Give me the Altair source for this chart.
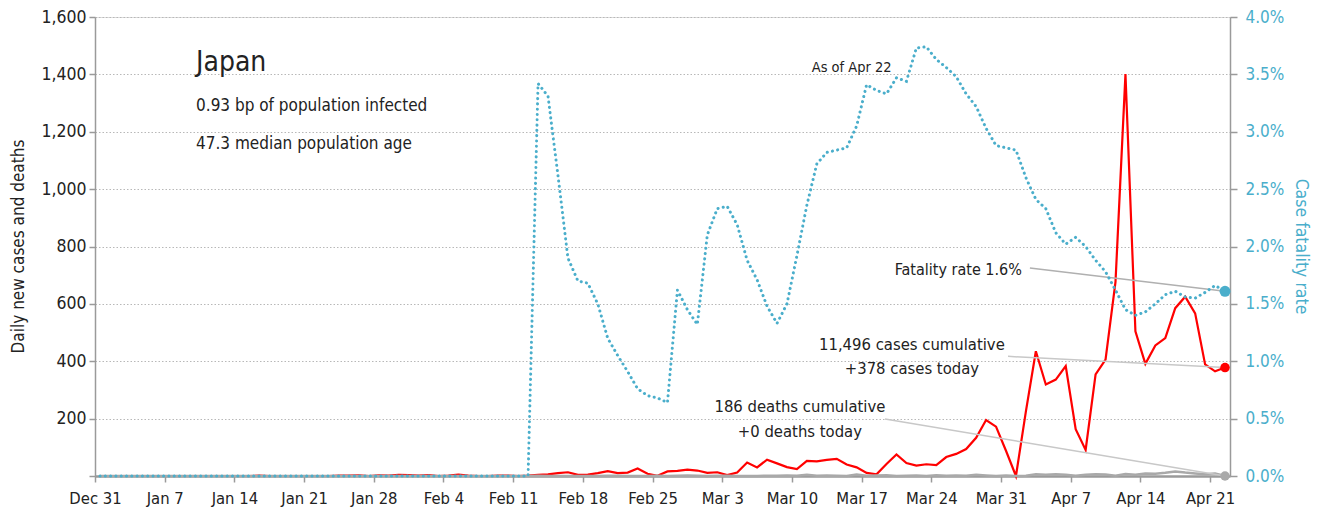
import altair as alt
import pandas as pd
from datetime import datetime, timedelta

# ---------------- data ----------------
cases = [0] * 16 + [1] + [0] * 7 + [
    1, 1, 2, 0, 2, 1, 4, 3, 1, 3, 0, 1, 5, 1, 0, 0, 1, 1, 0, 1,          # d24-d43
    4, 6, 10, 13, 4, 5, 10, 17, 10, 12, 26, 8, 1,                          # d44-d56
    16, 18, 22, 19, 11, 13, 3, 12, 47, 30, 57, 44, 31, 24, 53, 51, 56, 60,  # d57-d74
    40, 30, 11, 6, 42, 75, 45, 36, 41, 38, 66, 77, 94, 133, 195, 172, 88,   # d75-d91
    0, 225, 435, 319, 336, 383, 163, 91, 354, 406, 677, 1401, 504, 391,     # d92-d105
    455, 481, 585, 625, 567, 389, 365, 378]                                 # d106-d113

deaths = [0] * 44 + [
    1, 0, 0, 0, 0, 0, 0, 1, 1, 0, 0, 0, 1, 0, 1, 2, 1, 0, 1, 1, 0, 0, 0,   # d44-d66
    1, 1, 2, 1, 4, 1, 2, 1, 0, 5, 1, 2, 3, 0, 1, 2, 0, 3, 1, 2, 1, 4, 2,   # d67-d89
    0, 2, 0, 1, 6, 4, 6, 4, 1, 4, 6, 5, 1, 7, 4, 9, 8, 11, 16, 12, 9, 6,   # d90-d111
    9, 0]                                                                   # d112-d113

cfr_pct = [0.0] * 44 + [
    3.42, 3.31, 2.62, 1.90, 1.70, 1.68, 1.50, 1.20, 1.05, 0.91, 0.76, 0.70,  # d44-d55
    0.68, 0.64, 1.62, 1.45, 1.32, 2.10, 2.33, 2.35, 2.19, 1.88, 1.71, 1.48,  # d56-d67
    1.33, 1.50, 1.92, 2.36, 2.72, 2.82, 2.84, 2.86, 3.05, 3.41, 3.36, 3.33,  # d68-d79
    3.47, 3.44, 3.73, 3.74, 3.63, 3.56, 3.48, 3.33, 3.22, 3.03, 2.88, 2.86,  # d80-d91
    2.84, 2.60, 2.41, 2.33, 2.12, 2.02, 2.08, 2.00, 1.88, 1.78, 1.62, 1.45,  # d92-d103
    1.40, 1.43, 1.50, 1.58, 1.61, 1.56, 1.55, 1.60, 1.66, 1.61]              # d104-d113

tick_labels_weeks = 17  # Dec 31 ... Apr 21, weekly

# annotation texts and their anchors (days after Dec 31 00:00, value on the count axis)
title_texts = ["Japan", "0.93 bp of population infected", "47.3 median population age"]
title_days = [10.15, 10.15, 10.15]
title_vals = [1439, 1290, 1158]
title_sizes = [28, 17, 17]

center_texts = ["As of Apr 22", "11,496 cases cumulative", "+378 cases today",
                "186 deaths cumulative", "+0 deaths today"]
center_days = [76.0, 82.05, 82.05, 70.8, 70.8]
center_vals = [1421, 455, 372, 241, 154]
center_sizes = [14.5, 16.5, 16.5, 16.5, 16.5]

right_texts = ["Fatality rate 1.6%"]
right_days = [93.1]
right_vals = [719]

# leader lines: start (days, value) -> last point of the series
lead_cases_start = (91.7, 417)
lead_deaths_start = (79.35, 199)
lead_cfr_start = (93.9, 0.01813)

# ---------------- tables ----------------
origin = datetime(2019, 12, 31)


def ts(days):
    return (origin + timedelta(days=days)).strftime("%Y-%m-%dT%H:%M:%S")


dates = [ts(i + 0.5) for i in range(len(cases))]
df = pd.DataFrame({"date": dates, "cases": cases, "deaths": deaths,
                   "cfr": [v / 100 for v in cfr_pct]})
last = df.iloc[[-1]].copy()
last_date = dates[-1]

t_title = pd.DataFrame({"date": [ts(d) for d in title_days], "v": title_vals,
                        "text": title_texts, "size": title_sizes})
t_center = pd.DataFrame({"date": [ts(d) for d in center_days], "v": center_vals,
                         "text": center_texts, "size": center_sizes})
t_right = pd.DataFrame({"date": [ts(d) for d in right_days], "v": right_vals,
                        "text": right_texts})
lead_left = pd.DataFrame({
    "date": [ts(lead_cases_start[0]), ts(lead_deaths_start[0])],
    "date2": [last_date, last_date],
    "v": [lead_cases_start[1], lead_deaths_start[1]],
    "v2": [cases[-1], deaths[-1]],
})
lead_right = pd.DataFrame({
    "date": [ts(lead_cfr_start[0])], "date2": [last_date],
    "v": [lead_cfr_start[1]], "v2": [cfr_pct[-1] / 100],
})

# ---------------- styling ----------------
FONT = "'Liberation Sans Narrow', 'DejaVu Sans Condensed', 'Roboto Condensed', 'Arial Narrow', Roboto, sans-serif"
BLUE = "#4aaecb"
RED = "#ff0000"
GRAY = "#a9a9a9"
AX = "#9a9a9a"
TXT = "#222222"

tick_vals = [origin + timedelta(days=7 * i) for i in range(tick_labels_weeks)]
X_SCALE = alt.Scale(domain=[alt.DateTime(year=2019, month=12, date=31),
                            alt.DateTime(year=2020, month=4, date=23)])
X_AXIS = alt.Axis(values=[alt.DateTime(year=d.year, month=d.month, date=d.day) for d in tick_vals],
                  format="%b %-d", labelFontSize=16.5, labelColor=TXT, labelFont=FONT,
                  tickSize=6, tickColor=AX, tickWidth=1.5, domainColor=AX, domainWidth=2.5,
                  grid=False, labelPadding=8, labelFlush=False)


def X(field="date"):
    return alt.X(f"{field}:T", scale=X_SCALE, axis=X_AXIS, title=None)


YL_SCALE = alt.Scale(domain=[0, 1600], nice=False, zero=True)
YL_AXIS = alt.Axis(values=list(range(0, 1601, 200)),
                   labelExpr="datum.value == 0 ? '' : format(datum.value, ',')",
                   labelFontSize=17.5, labelColor=TXT, labelFont=FONT, labelPadding=3,
                   tickSize=6, tickColor=AX, tickWidth=1.5, domainColor=AX, domainWidth=1.5,
                   grid=True, gridColor="#b8b8b8", gridDash=[1.5, 2], gridWidth=1,
                   title="Daily new cases and deaths", titleFont=FONT, titleFontSize=17,
                   titleFontWeight="normal", titleColor=TXT, titleAngle=-90,
                   titleX=-77, titleY=229, titleAlign="center", titleBaseline="middle")


def YL(field="v"):
    return alt.Y(f"{field}:Q", scale=YL_SCALE, axis=YL_AXIS)


YR_SCALE = alt.Scale(domain=[0, 0.04], nice=False, zero=True)
YR_AXIS = alt.Axis(orient="right", values=[i * 0.005 for i in range(9)], format=".1%",
                   labelFontSize=17, labelColor=BLUE, labelFont=FONT, labelPadding=8,
                   tickSize=7, tickColor=AX, tickWidth=1.5, domainColor=AX, domainWidth=1.5,
                   grid=False,
                   title="Case fatality rate", titleFont=FONT, titleFontSize=17.5,
                   titleFontWeight="normal", titleColor=BLUE, titleAngle=90,
                   titleX=70, titleY=229, titleAlign="center", titleBaseline="middle")


def YR(field="cfr"):
    return alt.Y(f"{field}:Q", scale=YR_SCALE, axis=YR_AXIS)


base = alt.Chart(df)

cases_line = base.mark_line(color=RED, strokeWidth=2.2).encode(x=X(), y=YL("cases"))
deaths_line = base.mark_line(color=GRAY, strokeWidth=2.5).encode(x=X(), y=YL("deaths"))

leaders_l = alt.Chart(lead_left).mark_rule(color="#c8c8c8", strokeWidth=1.5).encode(
    x=X(), x2="date2:T", y=YL("v"), y2="v2:Q")

dot_cases = alt.Chart(last).mark_circle(color=RED, opacity=1, size=90).encode(x=X(), y=YL("cases"))
dot_deaths = alt.Chart(last).mark_circle(color=GRAY, opacity=1, size=90).encode(x=X(), y=YL("deaths"))

txt_title = alt.Chart(t_title).mark_text(align="left", baseline="middle", font=FONT, color=TXT).encode(
    x=X(), y=YL("v"), text="text:N", size=alt.Size("size:Q", scale=None, legend=None))
txt_center = alt.Chart(t_center).mark_text(align="center", baseline="middle", font=FONT, color=TXT).encode(
    x=X(), y=YL("v"), text="text:N", size=alt.Size("size:Q", scale=None, legend=None))
txt_right = alt.Chart(t_right).mark_text(align="right", baseline="middle", font=FONT, color=TXT,
                                         fontSize=16).encode(x=X(), y=YL("v"), text="text:N")

left = alt.layer(cases_line, deaths_line, leaders_l, dot_cases, dot_deaths,
                 txt_title, txt_center, txt_right)

cfr_line = base.mark_line(color=BLUE, strokeWidth=3, strokeDash=[0.1, 5.2],
                          strokeCap="round").encode(x=X(), y=YR("cfr"))
leader_r = alt.Chart(lead_right).mark_rule(color="#b0b0b0", strokeWidth=1.5).encode(
    x=X(), x2="date2:T", y=YR("v"), y2="v2:Q")
dot_cfr = alt.Chart(last).mark_circle(color=BLUE, opacity=1, size=120).encode(x=X(), y=YR("cfr"))

right = alt.layer(leader_r, cfr_line, dot_cfr)

chart = alt.layer(left, right).resolve_scale(y="independent").properties(
    width=1135, height=459,
    autosize=alt.AutoSizeParams(type="none"),
    padding={"left": 87, "top": 9, "right": 81, "bottom": 35},
).configure_view(stroke=None).configure(font=FONT)

chart.save("out.html", embed_options={"renderer": "svg", "actions": False})
